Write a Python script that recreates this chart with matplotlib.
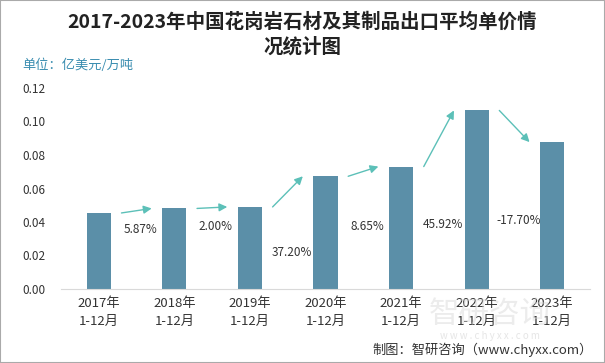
import matplotlib
matplotlib.use("Agg")
import matplotlib.pyplot as plt
import numpy as np

plt.rcParams["font.family"] = ["Noto Sans CJK SC", "DejaVu Sans"]

years = ["2017年\n1-12月", "2018年\n1-12月", "2019年\n1-12月", "2020年\n1-12月",
         "2021年\n1-12月", "2022年\n1-12月", "2023年\n1-12月"]
prices = [0.0454, 0.0481, 0.0490, 0.0673, 0.0731, 0.1066, 0.0877]
growth = ["5.87%", "2.00%", "37.20%", "8.65%", "45.92%", "-17.70%"]
growth_label_y = [0.0358, 0.0376, 0.0220, 0.0376, 0.0388, 0.0410]

BAR_COLOR = "#5b8fa8"
ARROW_COLOR = "#5cc0b8"
TEXT_COLOR = "#333333"

fig = plt.figure(figsize=(6.05, 3.63), dpi=100)
fig.patches.append(plt.Rectangle((0, 0), 1, 1, transform=fig.transFigure,
                                 fill=False, edgecolor="#aaaaaa", linewidth=1.5))
ax = fig.add_axes([61 / 605, 1 - 289 / 363, 529 / 605, 201 / 363])

x = np.arange(len(years))
ax.bar(x, prices, width=0.32, color=BAR_COLOR, edgecolor="none")

# growth arrows between bar tops
for i in range(len(growth)):
    ax.annotate("", xy=(i + 1 - 0.3, prices[i + 1]), xytext=(i + 0.3, prices[i]),
                arrowprops=dict(arrowstyle="-|>", color=ARROW_COLOR, lw=1.0,
                                mutation_scale=12, shrinkA=0, shrinkB=0))
    ax.text(i + 0.55, growth_label_y[i], growth[i], ha="center", va="center",
            fontsize=8.5, color=TEXT_COLOR)

ax.set_xlim(-0.5, len(years) - 0.5)
ax.set_ylim(0, 0.12)
ax.set_yticks(np.arange(0, 0.121, 0.02))
ax.set_yticklabels([f"{v:.2f}" for v in np.arange(0, 0.121, 0.02)])
ax.set_xticks(x)
ax.set_xticklabels(years, fontsize=9.5, color=TEXT_COLOR, linespacing=1.5)
for lbl in ax.get_yticklabels():
    lbl.set_horizontalalignment("left")
ax.tick_params(axis="y", length=0, pad=28, labelsize=8.5, labelcolor=TEXT_COLOR)
ax.tick_params(axis="x", length=0, pad=6)
for s in ["top", "right", "left"]:
    ax.spines[s].set_visible(False)
ax.spines["bottom"].set_color("#d9d9d9")

fig.text(0.5, 1 - 22 / 363, "2017-2023年中国花岗岩石材及其制品出口平均单价情",
         ha="center", va="center", fontsize=14, fontweight="bold", color="#222222")
fig.text(0.5, 1 - 47 / 363, "况统计图",
         ha="center", va="center", fontsize=14, fontweight="bold", color="#222222")
fig.text(22 / 605, 1 - 65 / 363, "单位：亿美元/万吨", ha="left", va="center",
         fontsize=9.5, color="#3a8db0")

# watermark
fig.text(490 / 605, 1 - 314 / 363, "智研咨询", ha="center", va="center",
         fontsize=22, color="#d5d5d5", alpha=0.45, zorder=0)
fig.text(490 / 605, 1 - 336 / 363, "w w w . c h y x x . c o m", ha="center", va="center",
         fontsize=7, color="#d5d5d5", alpha=0.6, zorder=0)
fig.text(593 / 605, 1 - 350 / 363, "制图：智研咨询（www.chyxx.com）", ha="right",
         va="center", fontsize=9.5, color=TEXT_COLOR)

fig.savefig("out.png", dpi=100)
